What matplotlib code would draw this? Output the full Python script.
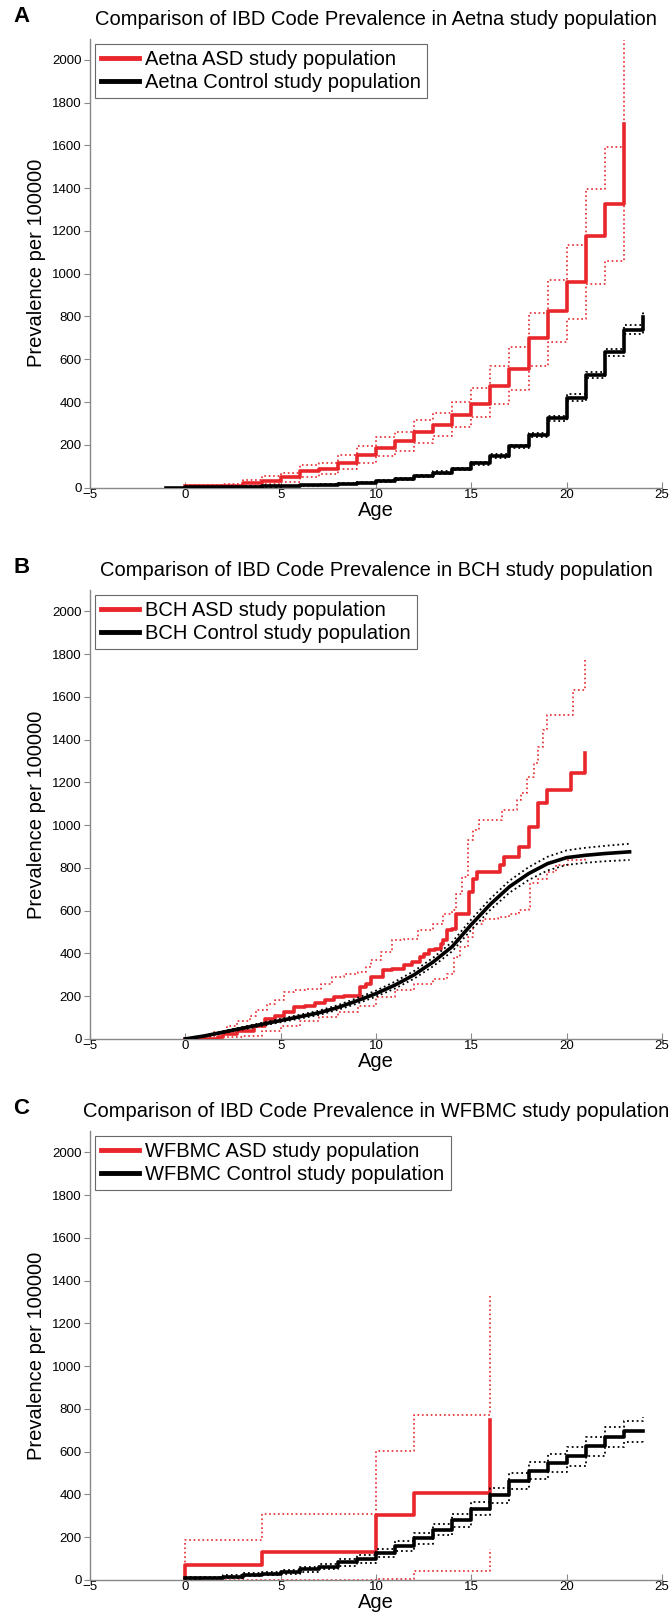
import numpy as np
import matplotlib.pyplot as plt

plt.rcParams["font.family"] = ["Liberation Sans", "DejaVu Sans"]

RED = "#e8262b"

# --- Panel A: Aetna ---
a_asd_x = list(range(0, 24))
a_asd = [5, 6, 8, 19, 31, 47, 78, 86, 117, 153, 187, 218, 258, 292, 339, 390,
         476, 554, 698, 827, 960, 1175, 1324, 1698]
a_asd_hi = [12, 14, 18, 35, 52, 70, 105, 117, 151, 192, 234, 261, 315, 348, 401, 464,
            570, 656, 816, 972, 1135, 1397, 1592, 2095]
a_asd_lo = [0, 1, 2, 8, 15, 25, 51, 62, 86, 114, 148, 172, 208, 239, 281, 328,
            390, 457, 570, 679, 788, 952, 1061, 1400]
a_ctl_x = list(range(-1, 25))
a_ctl = [0, 1, 2, 3, 4, 5, 7, 10, 14, 18, 23, 30, 39, 55, 70, 86, 114, 148, 192,
         245, 323, 421, 526, 632, 738, 796]
a_ctl_hi = [0, 2, 3, 4, 5, 6, 8, 11, 16, 20, 26, 33, 43, 59, 75, 92, 121, 156, 201,
            256, 336, 436, 542, 650, 760, 820]
a_ctl_lo = [0, 0, 1, 2, 3, 4, 6, 9, 12, 16, 20, 27, 35, 51, 65, 80, 107, 140, 183,
            234, 310, 406, 510, 614, 716, 772]

# --- Panel B: BCH ---
b_asd_x = [0, 1.7, 2.0, 2.7, 3.6, 4.2, 4.7, 5.2, 5.7, 6.3, 6.8, 7.3, 7.8, 8.3, 9.15,
           9.45, 9.75, 10.35, 10.85, 11.45, 11.9, 12.3, 12.5, 12.8, 13.1, 13.4, 13.5,
           13.7, 14.0, 14.2, 14.9, 15.1, 15.3, 16.5, 16.7, 17.5, 18.0, 18.5, 18.95,
           20.25, 20.95]
b_asd = [0, 8, 23, 39, 62, 94, 105, 125, 148, 156, 167, 183, 195, 203, 245, 255, 289,
         323, 328, 344, 359, 383, 398, 414, 422, 445, 461, 508, 516, 586, 686, 750,
         781, 812, 852, 898, 992, 1102, 1164, 1242, 1339]
b_hi_x = [0, 0.93, 1.5, 2.2, 2.7, 3.4, 3.7, 4.3, 4.7, 5.2, 5.7, 6.3, 7.1, 7.7, 8.3,
          9.05, 9.45, 9.75, 10.25, 10.85, 11.45, 12.2, 13.0, 13.5, 14.0, 14.2, 14.5,
          14.8, 15.1, 15.4, 16.6, 17.4, 17.6, 17.9, 18.3, 18.5, 18.75, 18.95, 20.35,
          20.95]
b_asd_hi = [0, 8, 31, 62, 86, 109, 133, 164, 180, 219, 227, 234, 255, 289, 305, 312,
            336, 367, 406, 461, 469, 508, 539, 586, 602, 680, 758, 930, 977, 1023,
            1070, 1117, 1148, 1227, 1289, 1367, 1445, 1516, 1633, 1773]
b_lo_x = [0, 1.9, 3.0, 4.0, 5.0, 6.0, 7.0, 8.0, 9.05, 10.0, 11.0, 12.0, 13.0, 13.7,
          14.1, 14.4, 14.8, 15.1, 15.6, 16.4, 17.0, 17.5, 18.0, 18.1, 18.5, 18.95,
          19.45, 20.05, 20.95]
b_asd_lo = [0, 8, 16, 39, 62, 83, 102, 125, 156, 195, 227, 255, 281, 305, 383, 430,
            477, 539, 563, 570, 586, 602, 617, 727, 750, 781, 812, 836, 852]
b_ctl_x = [0, 1, 2, 3, 4, 5, 6, 7, 8, 9, 10, 11, 12, 13, 14, 15, 16, 17, 18, 19, 20,
           21, 22, 23.3]
b_ctl = [0, 14, 32, 50, 68, 86, 104, 122, 147, 178, 212, 252, 300, 360, 432, 535,
         630, 712, 773, 820, 848, 859, 867, 875]
b_ctl_hi = [0, 17, 37, 56, 75, 94, 113, 132, 158, 191, 226, 268, 318, 380, 454, 559,
            656, 740, 803, 852, 882, 894, 903, 913]
b_ctl_lo = [0, 11, 27, 44, 61, 78, 95, 112, 136, 165, 198, 236, 282, 340, 410, 511,
            604, 684, 743, 788, 814, 824, 831, 837]

# --- Panel C: WFBMC ---
c_asd_x = [0, 0, 4, 10, 12, 16]
c_asd = [0, 69, 129, 302, 405, 747]
c_asd_hi = [0, 187, 310, 605, 770, 1326]
c_asd_lo = [0, 2, 2, 3, 43, 145]
c_ctl_x = list(range(0, 25))
c_ctl = [8, 11, 16, 24, 30, 38, 49, 63, 82, 98, 126, 158, 195, 235, 279, 334, 397,
         463, 510, 547, 578, 625, 669, 696, 699]
c_ctl_hi = [12, 16, 22, 31, 38, 47, 60, 76, 97, 115, 145, 180, 220, 262, 309, 366,
            432, 501, 550, 590, 622, 671, 717, 745, 760]
c_ctl_lo = [4, 7, 11, 17, 22, 29, 38, 50, 67, 81, 107, 136, 170, 208, 249, 302, 362,
            425, 470, 504, 534, 579, 621, 647, 640]

panels = [
    ("A", "Aetna", a_asd_x, a_asd, a_asd_x, a_asd_hi, a_asd_x, a_asd_lo,
     a_ctl_x, a_ctl, a_ctl_hi, a_ctl_lo, True),
    ("B", "BCH", b_asd_x, b_asd, b_hi_x, b_asd_hi, b_lo_x, b_asd_lo,
     b_ctl_x, b_ctl, b_ctl_hi, b_ctl_lo, False),
    ("C", "WFBMC", c_asd_x, c_asd, c_asd_x, c_asd_hi, c_asd_x, c_asd_lo,
     c_ctl_x, c_ctl, c_ctl_hi, c_ctl_lo, True),
]

fig = plt.figure(figsize=(6.7, 16.17), dpi=100)
bottoms = [0.6985, 0.3575, 0.0229]
H = 1617.0

for (letter, site, ax_x, asd, hx, hi, lx, lo, cx, ctl, chi, clo, ctl_steps), b in zip(panels, bottoms):
    ax = fig.add_axes([90 / 670, b, 572 / 670, 449 / H])
    ds = "steps-post"
    ax.plot(ax_x, asd, color=RED, lw=2.6, drawstyle=ds, label=f"{site} ASD study population", zorder=3)
    ax.plot(hx, hi, color=RED, lw=1.2, ls=":", drawstyle=ds, zorder=2)
    ax.plot(lx, lo, color=RED, lw=1.2, ls=":", drawstyle=ds, zorder=2)
    cds = ds if ctl_steps else "default"
    ax.plot(cx, ctl, color="black", lw=2.6, drawstyle=cds, label=f"{site} Control study population", zorder=4)
    ax.plot(cx, chi, color="black", lw=1.3, ls=":", drawstyle=cds, zorder=4)
    ax.plot(cx, clo, color="black", lw=1.3, ls=":", drawstyle=cds, zorder=4)

    ax.set_xlim(-5, 25)
    ax.set_ylim(0, 2100)
    ax.set_xticks(np.arange(-5, 26, 5))
    ax.set_yticks(np.arange(0, 2001, 200))
    ax.set_xticklabels(["\u22125", "0", "5", "10", "15", "20", "25"])
    for s in ["top", "right"]:
        ax.spines[s].set_visible(False)
    for s in ["left", "bottom"]:
        ax.spines[s].set_color("#888888")
        ax.spines[s].set_linewidth(1.0)
    ax.tick_params(axis="y", direction="out", length=4, color="#888888", labelsize=9.5, pad=2)
    ax.tick_params(axis="x", direction="in", length=4, color="#888888", labelsize=9.5, pad=1)
    ax.set_xlabel("Age", fontsize=14.5, labelpad=0)
    ax.set_ylabel("Prevalence per 100000", fontsize=14.5, labelpad=4)
    ax.set_title(f"Comparison of IBD Code Prevalence in {site} study population",
                 fontsize=14.5, pad=10)
    ax.text(-0.12, 1.05, letter, transform=ax.transAxes, fontsize=16,
            fontweight="bold", ha="center", va="center")
    leg = ax.legend(loc="upper left", fontsize=14.5, frameon=True, fancybox=False,
                    borderaxespad=0.25, handlelength=1.9, handletextpad=0.3,
                    borderpad=0.3, labelspacing=0.2)
    leg.get_frame().set_edgecolor("#444444")
    leg.get_frame().set_linewidth(0.8)
    for line in leg.get_lines():
        line.set_linewidth(3.5)

plt.savefig("out.png", dpi=100)
